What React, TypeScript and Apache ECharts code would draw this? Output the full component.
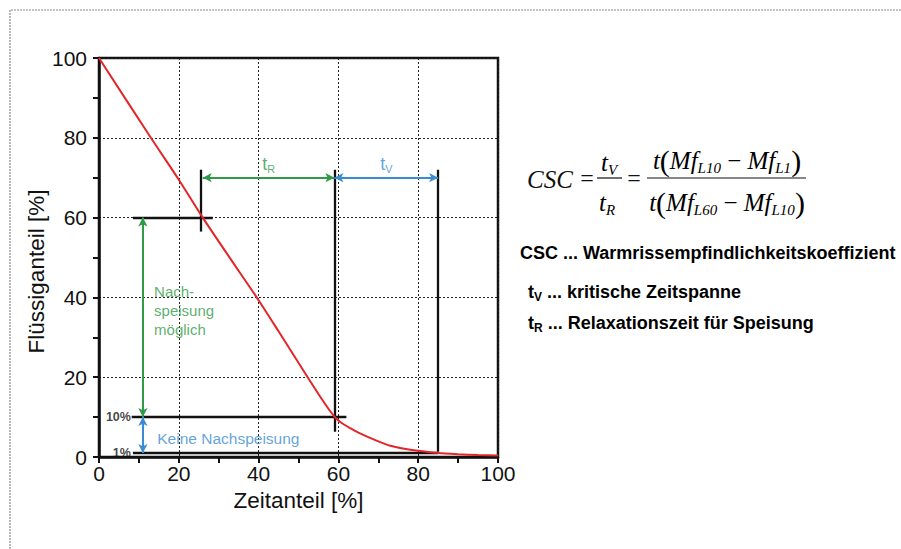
import React, { useEffect, useRef } from "react";
import * as echarts from "echarts";

// ---- data ----
const curveX = [0, 13, 20, 26, 33, 40, 45, 50, 55, 58, 59.5, 61, 63, 65, 70, 73, 78, 85, 90, 95, 100];
const curveY = [100, 80, 69.5, 60, 49.6, 39.3, 31.5, 23.6, 15.8, 11.4, 9.6, 8.4, 7.2, 6.1, 3.9, 2.8, 1.8, 1.0, 0.7, 0.5, 0.35];
const axisTicks = [0, 20, 40, 60, 80, 100];

// black helper segments [x1, y1, x2, y2]
const blackSegments = [
  [8.5, 60, 28.5, 60],
  [25.5, 56.5, 25.5, 72],
  [59, 6.3, 59, 72],
  [85, 1.3, 85, 72],
  [8.2, 10, 62, 10],
  [8.5, 1, 85, 1],
];
// arrows [x1, y1, x2, y2]
const greenArrows = [
  [26, 70, 59, 70],
  [11, 60, 11, 10],
];
const blueArrows = [
  [59, 70, 85, 70],
  [11, 10, 11, 1],
];
// label anchors
const tRPos = [42.5, 73.5];
const tVPos = [72, 73.5];
const nachPos = [13.8, 36.8];
const keinePos = [14.6, 4.7];
const pct10Pos = [8.0, 10];
const pct1Pos = [8.0, 1];

const GREEN = "#2f9a48";
const BLUE = "#3a8cd2";
const RED = "#e3262a";
const SANS = "'Liberation Sans', Arial, sans-serif";
const SERIF = "'Liberation Serif', 'Times New Roman', serif";

function segs(list: number[][]) {
  return list.map((s) => [{ coord: [s[0], s[1]] }, { coord: [s[2], s[3]] }]);
}

export default function App() {
  const ref = useRef<HTMLDivElement>(null);
  useEffect(() => {
    if (!ref.current) return;
    const chart = echarts.init(ref.current, null, { renderer: "svg" });

    const axisCommon = {
      type: "value",
      min: 0,
      max: 100,
      interval: 20,
      axisLine: { show: true, onZero: false, lineStyle: { color: "#111", width: 2.5 } },
      axisTick: { show: true, inside: false, length: 6, lineStyle: { color: "#111", width: 2 } },
      minorTick: { show: true, splitNumber: 2, length: 6, lineStyle: { color: "#111", width: 2 } },
      splitLine: { show: true, lineStyle: { color: "#222", width: 1, type: [2, 2] } },
      axisLabel: { color: "#111", fontSize: 21, fontFamily: SANS, formatter: (v: number) => (axisTicks.includes(v) ? String(v) : "") },
      nameTextStyle: { color: "#111", fontSize: 22.5, fontFamily: SANS },
    };

    const rich = (color: string, size: number) => ({
      t: { color, fontSize: size, fontFamily: SANS, lineHeight: size + 4, verticalAlign: "middle" },
      s: { color, fontSize: size * 0.6, fontFamily: SANS, lineHeight: size * 0.6, verticalAlign: "bottom" },
    });

    const labelPoint = (name: string, pos: number[], label: any) => ({
      name,
      type: "scatter",
      data: [pos],
      symbolSize: 0,
      silent: true,
      z: 6,
      label: { show: true, ...label },
    });

    const lineRich = {
      b: { fontSize: 18, fontWeight: "bold", fontFamily: SANS, color: "#1a1a1a", lineHeight: 22, verticalAlign: "middle" },
      s: { fontSize: 12, fontWeight: "bold", fontFamily: SANS, color: "#1a1a1a", lineHeight: 12, verticalAlign: "bottom" },
    };
    const mathRich = {
      i: { fontSize: 25, fontStyle: "italic", fontFamily: SERIF, color: "#111", lineHeight: 30, verticalAlign: "middle" },
      n: { fontSize: 25, fontFamily: SERIF, color: "#111", lineHeight: 30, verticalAlign: "middle" },
      p: { fontSize: 30, fontFamily: SERIF, color: "#111", lineHeight: 30, verticalAlign: "middle" },
      s: { fontSize: 15, fontStyle: "italic", fontFamily: SERIF, color: "#111", lineHeight: 15, verticalAlign: "bottom" },
    };

    chart.setOption({
      animation: false,
      backgroundColor: "#ffffff",
      grid: { left: 99, right: 403, top: 58, bottom: 92, show: true, borderColor: "#111", borderWidth: 2.5, backgroundColor: "transparent", containLabel: false },
      xAxis: {
        ...axisCommon,
        name: "Zeitanteil [%]",
        nameLocation: "middle",
        nameGap: 30,
        axisLabel: { ...axisCommon.axisLabel, margin: 6 },
      },
      yAxis: {
        ...axisCommon,
        name: "Flüssiganteil [%]",
        nameLocation: "middle",
        nameGap: 48,
        nameRotate: 90,
        nameTextStyle: { ...axisCommon.nameTextStyle, padding: [0, 28, 0, 0] },
        axisLabel: { ...axisCommon.axisLabel, margin: 12 },
      },
      series: [
        {
          name: "Flüssiganteil",
          type: "line",
          data: curveX.map((x, i) => [x, curveY[i]]),
          smooth: 0.25,
          showSymbol: false,
          lineStyle: { color: RED, width: 2 },
          z: 5,
          markLine: {
            silent: true,
            symbol: ["none", "none"],
            label: { show: false },
            lineStyle: { color: "#111", width: 2.3, type: "solid" },
            data: segs(blackSegments),
          },
        },
        {
          name: "greenArrows",
          type: "line",
          data: [],
          markLine: {
            silent: true,
            symbol: ["arrow", "arrow"],
            symbolSize: [7, 9],
            label: { show: false },
            lineStyle: { color: GREEN, width: 2, type: "solid" },
            data: segs(greenArrows),
          },
        },
        {
          name: "blueArrows",
          type: "line",
          data: [],
          markLine: {
            silent: true,
            symbol: ["arrow", "arrow"],
            symbolSize: [7, 9],
            label: { show: false },
            lineStyle: { color: BLUE, width: 2, type: "solid" },
            data: segs(blueArrows),
          },
        },
        labelPoint("tR", tRPos, { position: "inside", formatter: "{t|t}{s|R}", rich: rich(GREEN, 18) }),
        labelPoint("tV", tVPos, { position: "inside", formatter: "{t|t}{s|V}", rich: rich(BLUE, 18) }),
        labelPoint("nach", nachPos, {
          position: "right",
          distance: 0,
          formatter: "Nach-\nspeisung\nmöglich",
          color: GREEN,
          fontSize: 15,
          lineHeight: 19,
          fontFamily: SANS,
          align: "left",
        }),
        labelPoint("keine", keinePos, {
          position: "right",
          distance: 0,
          formatter: "Keine Nachspeisung",
          color: BLUE,
          fontSize: 15.5,
          fontFamily: SANS,
        }),
        labelPoint("p10", pct10Pos, { position: "left", distance: 0, formatter: "10%", color: "#111", fontSize: 12.5, fontWeight: "bold", fontFamily: SANS }),
        labelPoint("p1", pct1Pos, { position: "left", distance: 0, formatter: "1%", color: "#111", fontSize: 12.5, fontWeight: "bold", fontFamily: SANS }),
      ],
      graphic: [
        {
          type: "polyline",
          shape: { points: [[10, 549], [10, 10], [901, 10]] },
          style: { stroke: "#8a8a8a", lineWidth: 1.2, lineDash: [2, 1], fill: "none" },
          silent: true,
        },
        { type: "text", x: 527, y: 179, style: { text: "CSC", font: `italic 25px ${SERIF}`, fill: "#111", verticalAlign: "middle" } },
        { type: "text", x: 587, y: 178, style: { text: "=", font: `24px ${SERIF}`, fill: "#111", align: "center", verticalAlign: "middle" } },
        { type: "text", x: 609, y: 162, style: { text: "{i|t}{s|V}", rich: mathRich, align: "center", verticalAlign: "middle" } },
        { type: "line", shape: { x1: 597, y1: 178, x2: 622, y2: 178 }, style: { stroke: "#111", lineWidth: 1.2 } },
        { type: "text", x: 607, y: 202, style: { text: "{i|t}{s|R}", rich: mathRich, align: "center", verticalAlign: "middle" } },
        { type: "text", x: 634, y: 178, style: { text: "=", font: `24px ${SERIF}`, fill: "#111", align: "center", verticalAlign: "middle" } },
        { type: "text", x: 727, y: 160, style: { text: "{i|t}{p|(}{i|Mf}{s|L10}{n| − }{i|Mf}{s|L1}{p|)}", rich: mathRich, align: "center", verticalAlign: "middle" } },
        { type: "line", shape: { x1: 647, y1: 178, x2: 806, y2: 178 }, style: { stroke: "#111", lineWidth: 1.2 } },
        { type: "text", x: 727, y: 202, style: { text: "{i|t}{p|(}{i|Mf}{s|L60}{n| − }{i|Mf}{s|L10}{p|)}", rich: mathRich, align: "center", verticalAlign: "middle" } },
        { type: "text", x: 520, y: 253, style: { text: "{b|CSC ... Warmrissempfindlichkeitskoeffizient}", rich: lineRich, verticalAlign: "middle" } },
        { type: "text", x: 528, y: 292, style: { text: "{b|t}{s|V}{b| ... kritische Zeitspanne}", rich: lineRich, verticalAlign: "middle" } },
        { type: "text", x: 528, y: 323, style: { text: "{b|t}{s|R}{b| ... Relaxationszeit für Speisung}", rich: lineRich, verticalAlign: "middle" } },
      ],
    });
    return () => chart.dispose();
  }, []);
  return <div ref={ref} style={{ position: "fixed", left: 0, top: 0, width: 901, height: 549, background: "#fff" }} />;
}
